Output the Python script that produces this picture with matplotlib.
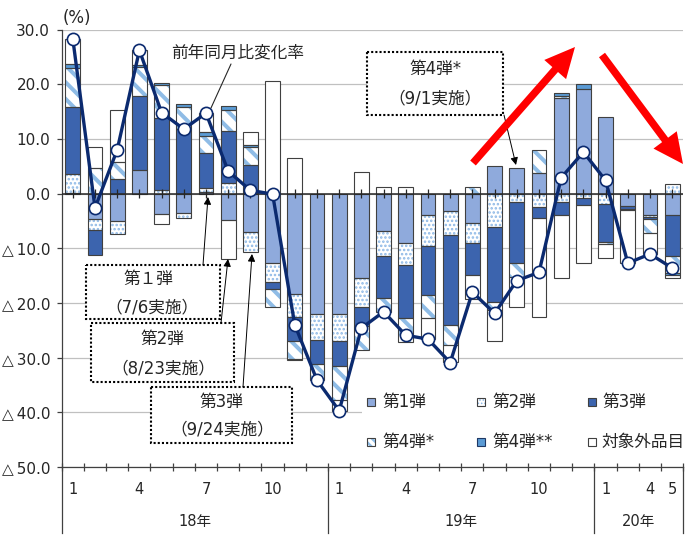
import numpy as np
import matplotlib
matplotlib.use("Agg")
import matplotlib.pyplot as plt
from matplotlib.patches import Rectangle, FancyArrow
from matplotlib import transforms as mtransforms

plt.rcParams['font.family'] = ['DejaVu Sans', 'Noto Sans CJK JP']

# ---- data: contribution to y/y change (%pt) by tariff list ----
month_labels = ['1', '', '', '4', '', '', '7', '', '', '10', '', '',
                '1', '', '', '4', '', '', '7', '', '', '10', '', '',
                '1', '', '4', '5']
year_labels = ['18年', '19年', '20年']
year_starts = [0, 12, 24, 28]
series_names = ['第1弾', '第2弾', '第3弾', '第4弾*', '第4弾**', '対象外品目']

tranche1 = [0.2, -4.6, -5.0, 4.4, -3.8, -3.5, 0.35, -4.9, -7.1, -12.65, -18.4, -22.0,
            -22.1, -15.5, -6.8, -9.1, -4.0, -3.2, -5.4, 5.0, 4.7, 3.85, 17.4, 19.05,
            14.05, -2.25, -3.9, -3.9]
tranche2 = [3.35, -2.1, -2.3, 0.0, 0.7, -1.0, 0.6, 1.85, -3.5, -3.5, -4.2, -4.75,
            -4.9, -5.2, -4.55, -3.95, -5.5, -4.45, -3.7, -6.05, -1.5, -2.4, -1.5, -0.75,
            -1.9, 0.0, -0.45, 1.75]
tranche3 = [12.3, -4.5, 2.6, 13.4, 13.2, 11.9, 6.4, 9.6, 5.3, -1.2, -4.35, -4.35,
            -4.55, -3.45, -7.65, -9.75, -9.0, -16.45, -5.8, -13.75, -11.1, -2.0, -2.4, -1.35,
            -6.9, -0.5, -0.35, -7.5]
tranche4a = [7.2, 4.6, 3.2, 5.4, 5.9, 3.9, 3.15, 3.8, 3.2, -3.4, -3.3, -2.75,
             -6.1, -4.45, -2.6, -4.3, -4.3, -3.6, 1.2, -1.4, -2.6, 4.1, 0.4, 0.0,
             -0.4, 0.0, -2.55, -3.05]
tranche4b = [0.6, 0.0, 0.0, 0.3, 0.5, 0.5, 0.8, 0.7, 0.3, 0.0, -0.25, -0.25,
             0.0, 0.0, 0.0, 0.0, 0.0, 0.0, 0.0, 0.0, 0.0, 0.0, 0.5, 1.0,
             0.0, -0.3, 0.0, -0.45]
excluded = [4.7, 4.0, 9.5, 2.7, -1.7, 0.0, 3.35, -7.0, 2.4, 20.6, 6.5, 0.0,
            -2.05, 4.0, 1.15, 1.15, -3.8, -3.1, -4.4, -5.75, -5.5, -18.1, -11.6, -10.5,
            -2.6, -9.65, -3.8, -0.6]
total_yoy = [28.3, -2.6, 8.0, 26.2, 14.8, 11.8, 14.7, 4.1, 0.6, -0.1, -24.0, -34.1,
             -39.7, -24.6, -21.6, -25.9, -26.6, -30.9, -18.0, -21.9, -15.9, -14.4, 2.9, 7.6,
             2.4, -12.7, -11.05, -13.6]

series = [tranche1, tranche2, tranche3, tranche4a, tranche4b, excluded]

EDGE = '#404040'
styles = [
    dict(face='#8FAADC', hatch=None),
    dict(face='white', hatch='....', hcolor='#8DB8E6', hlw=1.2, leg_hatch='.....'),
    dict(face='#3C64AE', hatch=None),
    dict(face='white', hatch='\\\\', hcolor='#8FBCE6', hlw=2.9, leg_hatch='\\\\\\\\'),
    dict(face='#5B9BD5', hatch=None),
    dict(face='white', hatch=None),
]

W, H = 692, 542
fig = plt.figure(figsize=(W / 100, H / 100), dpi=100)
X0, X1, Y0, Y1 = 61.7, 683.3, 29.5, 467.1
ax = fig.add_axes([X0 / W, 1 - Y1 / H, (X1 - X0) / W, (Y1 - Y0) / H])
pxt = mtransforms.Affine2D().scale(1 / W, -1 / H).translate(0, 1) + fig.transFigure

n = len(total_yoy)
x = np.arange(n)
bw = 0.66


def draw_patch_bar(xs, hs, bs, st):
    if len(xs) == 0:
        return
    if st['hatch']:
        with plt.rc_context({'hatch.linewidth': st['hlw'], 'hatch.color': st['hcolor']}):
            ax.bar(xs, hs, bottom=bs, width=bw, facecolor=st['face'],
                   edgecolor=st['hcolor'], linewidth=0, hatch=st['hatch'], zorder=2)
    else:
        ax.bar(xs, hs, bottom=bs, width=bw, color=st['face'], linewidth=0, zorder=2)
    ax.bar(xs, hs, bottom=bs, width=bw, facecolor='none', edgecolor=EDGE,
           linewidth=0.8, zorder=2.1)


pos_base = np.zeros(n)
neg_base = np.zeros(n)
for vals, st in zip(series, styles):
    v = np.array(vals, dtype=float)
    bottoms = np.where(v >= 0, pos_base, neg_base)
    m = v != 0
    draw_patch_bar(x[m], v[m], bottoms[m], st)
    pos_base = pos_base + np.where(v > 0, v, 0)
    neg_base = neg_base + np.where(v < 0, v, 0)

# zero line with small cross ticks at each month
ax.axhline(0, color='#262626', lw=1.1, zorder=3)
ax.vlines(x, -0.75, 0.75, color='#262626', lw=0.9, zorder=3)

# year-on-year change line
ax.plot(x, total_yoy, color='#0B2A6F', lw=2.4, marker='o', ms=8.8,
        mfc='white', mec='#0B2A6F', mew=1.2, zorder=5)

# axes
ax.set_xlim(-0.5, n - 0.5)
ax.set_ylim(-50, 30)
yt = np.arange(-50, 31, 10)
ax.set_yticks(yt)
ax.set_yticklabels([f'{v:.1f}' if v >= 0 else f'△\u2009{abs(v):.1f}' for v in yt],
                   fontsize=11, color='#262626')
ax.tick_params(axis='y', direction='out', length=3.3, width=0.9, color=EDGE, pad=5)
ax.yaxis.grid(True, color='#C0C0C0', lw=0.9)
ax.set_axisbelow(True)
ax.set_xticks([])
ax.set_xticks(np.arange(-0.5, n, 1), minor=True)
ax.tick_params(axis='x', which='minor', direction='inout', length=5.3, width=0.9,
               color=EDGE, labelbottom=False)
for s in ['top', 'right']:
    ax.spines[s].set_visible(False)
for s in ['left', 'bottom']:
    ax.spines[s].set_color(EDGE)
    ax.spines[s].set_linewidth(0.9)

# month / year labels under the axis
bt = mtransforms.blended_transform_factory(ax.transData, ax.transAxes)
yh = Y1 - Y0
for i, lab in enumerate(month_labels):
    if lab:
        ax.text(i, -(489.3 - Y1) / yh, lab, transform=bt, ha='center', va='center',
                fontsize=10.5, color='#262626')
for k, lab in enumerate(year_labels):
    c = (year_starts[k] + year_starts[k + 1] - 1) / 2
    ax.text(c, -(521.5 - Y1) / yh, lab, transform=bt, ha='center', va='center',
            fontsize=10.5, color='#262626')
for b in year_starts:
    ax.plot([b - 0.5, b - 0.5], [0, -(533 - Y1) / yh], transform=bt, color=EDGE,
            lw=0.9, clip_on=False)

fig.text(77 / W, 1 - 18 / H, '(%)', ha='center', va='center', fontsize=12, color='#262626')

# line label with leader
fig.text(238 / W, 1 - 52 / H, '前年同月比変化率', ha='center', va='center',
         fontsize=12, color='#262626')
ax.annotate('', xy=(211, 108), xytext=(231, 64), xycoords=pxt, textcoords=pxt,
            arrowprops=dict(arrowstyle='-', color='#262626', lw=0.8,
                            shrinkA=0, shrinkB=0), zorder=6)

# dotted call-out boxes
boxes = [
    ((86, 265, 220, 319), ['第１弾', '（7/6実施）'], (148, 279), (152, 307)),
    ((91, 323, 234, 382), ['第2弾', '（8/23実施）'], (162, 339), (163, 368)),
    ((151, 387, 292, 443), ['第3弾', '（9/24実施）'], (221, 402), (222, 429)),
    ((367, 52, 503, 115), ['第4弾*', '（9/1実施）'], (435, 69), (435, 98)),
]
for (bx0, by0, bx1, by1), lines, p1, p2 in boxes:
    fig.add_artist(Rectangle((bx0, by0), bx1 - bx0, by1 - by0, transform=pxt,
                             facecolor='white', edgecolor='black', lw=1.5,
                             linestyle=(0, (1, 1)), zorder=6))
    for txt, (tx, ty) in zip(lines, [p1, p2]):
        fig.text(tx / W, 1 - ty / H, txt, ha='center', va='center', fontsize=12,
                 color='#262626', zorder=7)

arrows = [((203, 265), (208, 197)), ((221, 323), (228, 259)),
          ((243, 387), (252, 254)), ((504, 115), (516, 165))]
for tail, tip in arrows:
    ax.annotate('', xy=tip, xytext=tail, xycoords=pxt, textcoords=pxt,
                arrowprops=dict(arrowstyle='-|>', color='black', lw=0.7,
                                mutation_scale=11, shrinkA=0, shrinkB=0), zorder=7)

# legend (2 rows x 3 columns)
fig.add_artist(Rectangle((362, 385), 330, 73, transform=pxt, facecolor='white',
                         edgecolor='none', zorder=5.5))
leg_cols = [(371, 382), (481, 492), (592, 602)]
leg_rows = [401.7, 441.7]
for k, (name, st) in enumerate(zip(series_names, styles)):
    (mx, tx), cy = leg_cols[k % 3], leg_rows[k // 3]
    if st['hatch']:
        with plt.rc_context({'hatch.linewidth': st['hlw'] * 0.6, 'hatch.color': st['hcolor']}):
            fig.add_artist(Rectangle((mx - 4, cy - 4), 8, 8, transform=pxt,
                                     facecolor=st['face'], edgecolor=st['hcolor'],
                                     lw=0, hatch=st['leg_hatch'], zorder=6))
    else:
        fig.add_artist(Rectangle((mx - 4, cy - 4), 8, 8, transform=pxt,
                                 facecolor=st['face'], lw=0, zorder=6))
    fig.add_artist(Rectangle((mx - 4, cy - 4), 8, 8, transform=pxt, facecolor='none',
                             edgecolor='#1F3864' if k == 4 else EDGE, lw=0.8, zorder=6.1))
    fig.text(tx / W, 1 - cy / H, name, ha='left', va='center', fontsize=12,
             color='#262626', zorder=7)

# trend arrows
for (tx0, ty0), (tx1, ty1) in [((473, 163), (575, 47)), ((602, 55), (683, 164))]:
    fig.add_artist(FancyArrow(tx0, ty0, tx1 - tx0, ty1 - ty0, width=7.5,
                              head_width=29, head_length=30, length_includes_head=True,
                              transform=pxt, facecolor='#FF0000', edgecolor='none',
                              zorder=8))

fig.savefig('out.png', dpi=100)
